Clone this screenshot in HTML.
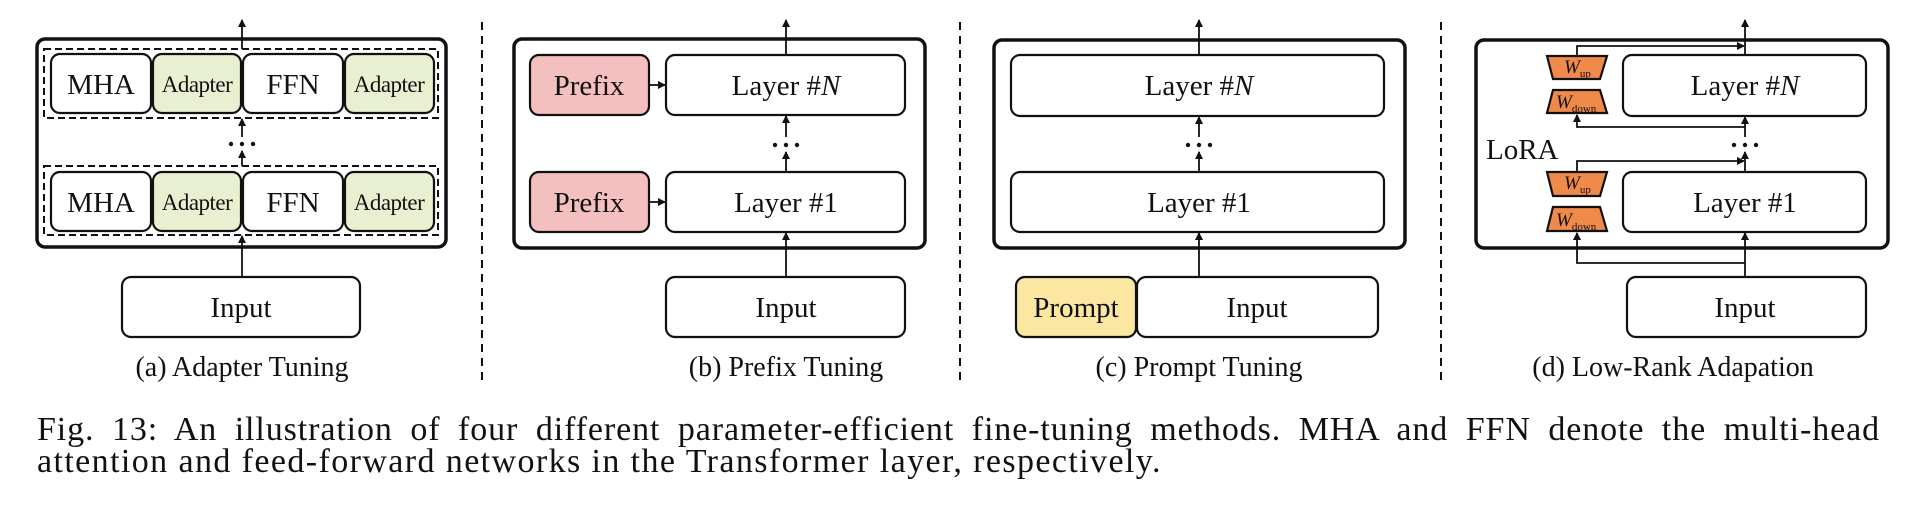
<!DOCTYPE html>
<html><head><meta charset="utf-8"><style>
html,body{margin:0;padding:0;background:#fff;width:1914px;height:510px;overflow:hidden}
svg{display:block}
text{font-family:"Liberation Serif",serif;fill:#111}
.cap{position:absolute;left:37px;width:1843px;font-family:"Liberation Serif",serif;font-size:34px;line-height:32px;color:#111;white-space:nowrap}
.l1{text-align:justify;text-align-last:justify;letter-spacing:0.9px}
.l2{letter-spacing:1.4px}
</style></head><body>
<svg width="1914" height="400" viewBox="0 0 1914 400" xmlns="http://www.w3.org/2000/svg">
<defs><marker id="ah" markerWidth="8" markerHeight="8" refX="7" refY="4" orient="auto" markerUnits="userSpaceOnUse"><path d="M0,0 L8,4 L0,8 z" fill="#111"/></marker></defs>
<g stroke="#111" fill="none">
<line x1="482" y1="22" x2="482" y2="383" stroke-width="2" stroke-dasharray="8,6"/>
<line x1="960" y1="22" x2="960" y2="383" stroke-width="2" stroke-dasharray="8,6"/>
<line x1="1441" y1="22" x2="1441" y2="383" stroke-width="2" stroke-dasharray="8,6"/>
</g>
<g fill="#111">
<circle cx="231" cy="144" r="2.2"/><circle cx="242" cy="144" r="2.2"/><circle cx="253" cy="144" r="2.2"/>
<circle cx="775" cy="145" r="2.2"/><circle cx="786" cy="145" r="2.2"/><circle cx="797" cy="145" r="2.2"/>
<circle cx="1188" cy="145" r="2.2"/><circle cx="1199" cy="145" r="2.2"/><circle cx="1210" cy="145" r="2.2"/>
<circle cx="1734" cy="145" r="2.2"/><circle cx="1745" cy="145" r="2.2"/><circle cx="1756" cy="145" r="2.2"/>
</g>
<!-- (a) -->
<g stroke="#111" stroke-width="2.2">
<rect x="37" y="39" width="409" height="208" rx="8" fill="none" stroke-width="3.5"/>
<rect x="44" y="49" width="394" height="69" fill="none" stroke-dasharray="7,4" stroke-width="2"/>
<rect x="44" y="166" width="394" height="69" fill="none" stroke-dasharray="7,4" stroke-width="2"/>
<rect x="51" y="54" width="100" height="59" rx="9" fill="#fff"/>
<rect x="153" y="54" width="88" height="59" rx="9" fill="#e9efd1"/>
<rect x="243" y="54" width="100" height="59" rx="9" fill="#fff"/>
<rect x="345" y="54" width="89" height="59" rx="9" fill="#e9efd1"/>
<rect x="51" y="172" width="100" height="59" rx="9" fill="#fff"/>
<rect x="153" y="172" width="88" height="59" rx="9" fill="#e9efd1"/>
<rect x="243" y="172" width="100" height="59" rx="9" fill="#fff"/>
<rect x="345" y="172" width="89" height="59" rx="9" fill="#e9efd1"/>
<rect x="122" y="277" width="238" height="60" rx="9" fill="#fff"/>
<line x1="242" y1="277" x2="242" y2="236" stroke-width="1.8" marker-end="url(#ah)"/>
<line x1="242" y1="166" x2="242" y2="151" stroke-width="1.8" marker-end="url(#ah)"/>
<line x1="242" y1="137" x2="242" y2="119" stroke-width="1.8" marker-end="url(#ah)"/>
<line x1="242" y1="49" x2="242" y2="20" stroke-width="1.8" marker-end="url(#ah)"/>
</g>
<g font-size="29" text-anchor="middle">
<text x="101" y="94">MHA</text><text x="293" y="94">FFN</text>
<text x="101" y="212">MHA</text><text x="293" y="212">FFN</text>
<text x="241" y="317">Input</text>
</g>
<g font-size="23" text-anchor="middle" letter-spacing="-0.5">
<text x="197" y="92">Adapter</text><text x="389" y="92">Adapter</text>
<text x="197" y="210">Adapter</text><text x="389" y="210">Adapter</text>
</g>
<text x="242" y="376" font-size="28" text-anchor="middle">(a) Adapter Tuning</text>

<!-- (b) -->
<g stroke="#111" stroke-width="2.2">
<rect x="514" y="39" width="411" height="209" rx="8" fill="none" stroke-width="3.5"/>
<rect x="530" y="55" width="119" height="60" rx="9" fill="#f3bfbf"/>
<rect x="530" y="172" width="119" height="60" rx="9" fill="#f3bfbf"/>
<rect x="666" y="55" width="239" height="60" rx="9" fill="#fff"/>
<rect x="666" y="172" width="239" height="60" rx="9" fill="#fff"/>
<rect x="666" y="277" width="239" height="60" rx="9" fill="#fff"/>
<line x1="649" y1="85" x2="665" y2="85" stroke-width="1.8" marker-end="url(#ah)"/>
<line x1="649" y1="202" x2="665" y2="202" stroke-width="1.8" marker-end="url(#ah)"/>
<line x1="786" y1="277" x2="786" y2="233" stroke-width="1.8" marker-end="url(#ah)"/>
<line x1="786" y1="172" x2="786" y2="152" stroke-width="1.8" marker-end="url(#ah)"/>
<line x1="786" y1="137" x2="786" y2="116" stroke-width="1.8" marker-end="url(#ah)"/>
<line x1="786" y1="55" x2="786" y2="20" stroke-width="1.8" marker-end="url(#ah)"/>
</g>
<g font-size="29" text-anchor="middle">
<text x="589" y="95">Prefix</text><text x="589" y="212">Prefix</text>
<text x="786" y="95">Layer #<tspan font-style="italic">N</tspan></text>
<text x="786" y="212">Layer #1</text>
<text x="786" y="317">Input</text>
</g>
<text x="786" y="376" font-size="28" text-anchor="middle">(b) Prefix Tuning</text>

<!-- (c) -->
<g stroke="#111" stroke-width="2.2">
<rect x="994" y="40" width="411" height="208" rx="8" fill="none" stroke-width="3.5"/>
<rect x="1011" y="55" width="373" height="61" rx="9" fill="#fff"/>
<rect x="1011" y="172" width="373" height="60" rx="9" fill="#fff"/>
<rect x="1016" y="277" width="120" height="60" rx="9" fill="#fbe6a2"/>
<rect x="1137" y="277" width="241" height="60" rx="9" fill="#fff"/>
<line x1="1199" y1="277" x2="1199" y2="233" stroke-width="1.8" marker-end="url(#ah)"/>
<line x1="1199" y1="172" x2="1199" y2="152" stroke-width="1.8" marker-end="url(#ah)"/>
<line x1="1199" y1="137" x2="1199" y2="117" stroke-width="1.8" marker-end="url(#ah)"/>
<line x1="1199" y1="55" x2="1199" y2="20" stroke-width="1.8" marker-end="url(#ah)"/>
</g>
<g font-size="29" text-anchor="middle">
<text x="1199" y="95">Layer #<tspan font-style="italic">N</tspan></text>
<text x="1199" y="212">Layer #1</text>
<text x="1076" y="317">Prompt</text>
<text x="1257" y="317">Input</text>
</g>
<text x="1199" y="376" font-size="28" text-anchor="middle">(c) Prompt Tuning</text>

<!-- (d) -->
<g stroke="#111" stroke-width="2.2">
<rect x="1476" y="40" width="412" height="208" rx="8" fill="none" stroke-width="3.5"/>
<rect x="1623" y="55" width="243" height="61" rx="9" fill="#fff"/>
<rect x="1623" y="172" width="243" height="60" rx="9" fill="#fff"/>
<rect x="1627" y="277" width="239" height="60" rx="9" fill="#fff"/>
<polygon points="1547,56 1607,56 1600,79 1553,79" fill="#f08a4b"/>
<polygon points="1553,90 1600,90 1607,113 1547,113" fill="#f08a4b"/>
<polygon points="1547,172 1607,172 1600,196 1553,196" fill="#f08a4b"/>
<polygon points="1553,207 1600,207 1607,231 1547,231" fill="#f08a4b"/>
<g stroke-width="1.8" fill="none">
<line x1="1745" y1="277" x2="1745" y2="233" marker-end="url(#ah)"/>
<polyline points="1745,263 1577,263 1577,233" marker-end="url(#ah)"/>
<line x1="1745" y1="172" x2="1745" y2="152" marker-end="url(#ah)"/>
<polyline points="1577,172 1577,161 1744,161" marker-end="url(#ah)"/>
<line x1="1745" y1="137" x2="1745" y2="117" marker-end="url(#ah)"/>
<polyline points="1745,127 1577,127 1577,115" marker-end="url(#ah)"/>
<polyline points="1577,56 1577,46 1744,46" marker-end="url(#ah)"/>
<line x1="1745" y1="55" x2="1745" y2="20" marker-end="url(#ah)"/>
</g>
</g>
<g font-size="29" text-anchor="middle">
<text x="1745" y="95">Layer #<tspan font-style="italic">N</tspan></text>
<text x="1745" y="212">Layer #1</text>
<text x="1745" y="317">Input</text>
</g>
<text x="1486" y="159" font-size="29">LoRA</text>
<g font-size="19">
<text x="1564" y="73" font-style="italic">W<tspan font-size="11" font-style="normal" dy="4">up</tspan></text>
<text x="1556" y="108" font-style="italic">W<tspan font-size="11" font-style="normal" dy="4">down</tspan></text>
<text x="1564" y="189" font-style="italic">W<tspan font-size="11" font-style="normal" dy="4">up</tspan></text>
<text x="1556" y="226" font-style="italic">W<tspan font-size="11" font-style="normal" dy="4">down</tspan></text>
</g>
<text x="1673" y="376" font-size="28" text-anchor="middle">(d) Low-Rank Adapation</text>
</svg>
<div class="cap" style="top:414px">
<div class="l1">Fig. 13: An illustration of four different parameter-efficient fine-tuning methods. MHA and FFN denote the multi-head</div>
<div class="l2">attention and feed-forward networks in the Transformer layer, respectively.</div>
</div>
</body></html>
